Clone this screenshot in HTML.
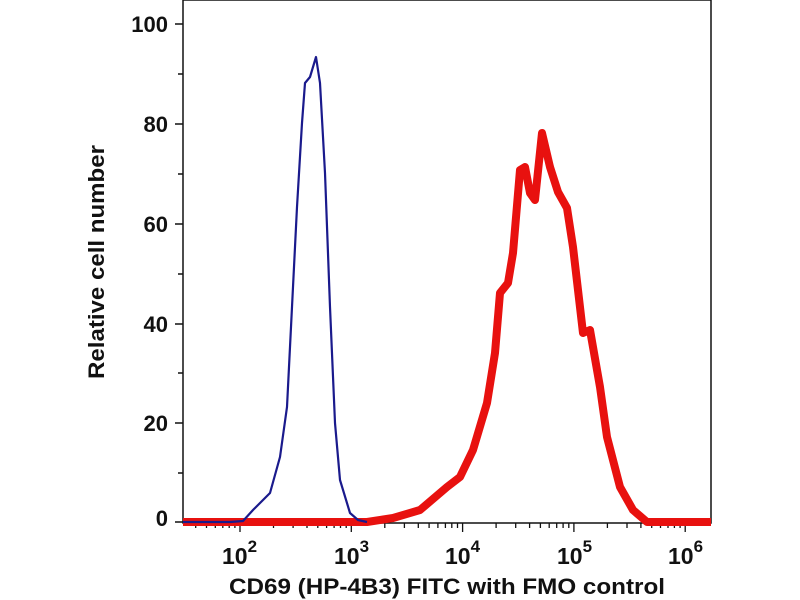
<!DOCTYPE html>
<html><head><meta charset="utf-8"><style>body{margin:0;background:#fff}svg{display:block}text{font-family:"Liberation Sans",sans-serif;font-weight:bold;fill:#111}</style></head><body>
<svg width="800" height="600" viewBox="0 0 800 600">
<rect x="183" y="0" width="528" height="523" fill="none" stroke="#111" stroke-width="1.5"/>
<g stroke="#111" stroke-width="1.5">
<line x1="175" y1="24" x2="183" y2="24"/><line x1="175" y1="124" x2="183" y2="124"/><line x1="175" y1="224" x2="183" y2="224"/><line x1="175" y1="324" x2="183" y2="324"/><line x1="175" y1="423" x2="183" y2="423"/><line x1="175" y1="522" x2="183" y2="522"/>
<line x1="178" y1="74" x2="183" y2="74"/><line x1="178" y1="174" x2="183" y2="174"/><line x1="178" y1="274" x2="183" y2="274"/><line x1="178" y1="373" x2="183" y2="373"/><line x1="178" y1="473" x2="183" y2="473"/>
</g>
<g id="xt" stroke="#111" stroke-width="1.3"></g>
<g font-size="22" text-anchor="end">
<text x="168" y="32">100</text><text x="168" y="132">80</text><text x="168" y="232">60</text><text x="168" y="332">40</text><text x="168" y="431">20</text><text x="168" y="526">0</text>
</g>
<g font-size="23">
<text x="222" y="564">10<tspan font-size="17" dy="-12">2</tspan></text>
<text x="334" y="564">10<tspan font-size="17" dy="-12">3</tspan></text>
<text x="445" y="564">10<tspan font-size="17" dy="-12">4</tspan></text>
<text x="557" y="564">10<tspan font-size="17" dy="-12">5</tspan></text>
<text x="668" y="564">10<tspan font-size="17" dy="-12">6</tspan></text>
</g>
<text x="447" y="594" font-size="22" text-anchor="middle" textLength="436" lengthAdjust="spacingAndGlyphs">CD69 (HP-4B3) FITC with FMO control</text>
<text transform="translate(104,262) rotate(-90)" font-size="22" text-anchor="middle" textLength="234" lengthAdjust="spacingAndGlyphs">Relative cell number</text>
<polyline fill="none" stroke="#e8110f" stroke-width="8" stroke-linejoin="round" points="183,522 367,522 393,518 420,510 447,487 460,477 473,450 487,403 495,353 500,293 508,283 513,253 520,170 525,167 530,193 535,200 542,133 550,167 558,192 567,208 573,247 583,333 590,330 600,387 607,437 620,487 633,510 647,522 711,522"/>
<polyline fill="none" stroke="#1a1a8c" stroke-width="2.2" stroke-linejoin="round" points="183,522 230,522 243,521 253,510 270,493 280,457 287,407 292,307 297,207 302,123 305,83 310,77 316,57 320,83 325,173 330,307 335,423 340,480 350,513 358,520 367,522"/>
</svg>
<script>
var g=document.getElementById('xt'),s='';
var x0=240,d=111.3;
for(var e=1;e<=6;e++){for(var m=1;m<=9;m++){var x=x0+(e-2+Math.log10(m))*d;if(x<183||x>711)continue;var L=m==1?9:5;s+='<line x1="'+x.toFixed(1)+'" y1="523" x2="'+x.toFixed(1)+'" y2="'+(523+L)+'"/>';}}
g.innerHTML=s;
</script>
</body></html>
